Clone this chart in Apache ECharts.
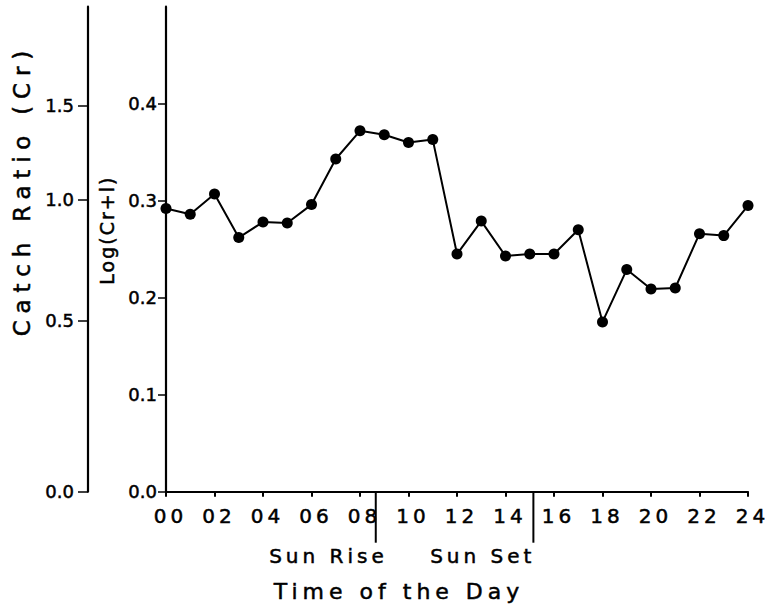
<!DOCTYPE html>
<html>
<head>
<meta charset="utf-8">
<script src="https://cdn.jsdelivr.net/npm/echarts@6/dist/echarts.min.js"></script>
<style>
  html, body { margin: 0; padding: 0; background: #fff; }
  #chart { width: 769px; height: 609px; }
  #chart text[style*="20px"] { letter-spacing: 4px; }
  #chart text[style*="19px"] { letter-spacing: 2px; }
  #chart text[style*="23px"] { letter-spacing: 6.8px; }
  #chart text[style*="22px"] { letter-spacing: 5px; }
</style>
</head>
<body>
<div id="chart"></div>
<script>
// ---- data ----
const hours = [0,1,2,3,4,5,6,7,8,9,10,11,12,13,14,15,16,17,18,19,20,21,22,23,24];
const logCatch = [0.292,0.286,0.307,0.262,0.278,0.277,0.296,0.343,0.372,0.368,0.360,0.363,
                  0.245,0.279,0.243,0.245,0.245,0.270,0.175,0.229,0.209,0.210,0.266,0.264,0.295];
const logTicks = [0.0, 0.1, 0.2, 0.3, 0.4];
const catchRatioTicks = [0.0, 0.5, 1.0, 1.5];
const sunEventHours = [8.65, 15.15];
const sunEventNames = ['Sun Rise', 'Sun Set'];

const FONT = 'DejaVu Sans';
const BOLDEN = { textBorderColor: '#000', textBorderWidth: 0.5 };
const chart = echarts.init(document.getElementById('chart'), null, { renderer: 'svg' });

const catchRatioPos = catchRatioTicks.map(c => Math.log10(1 + c));

chart.setOption({
  animation: false,
  backgroundColor: '#fff',
  grid: { left: 166, right: 21, top: 6.7, bottom: 117.3, containLabel: false },
  xAxis: {
    type: 'value', min: 0, max: 24, interval: 2,
    name: 'Time of the Day', nameLocation: 'middle', nameGap: 89,
    nameTextStyle: Object.assign({ fontFamily: FONT, fontSize: 22, color: '#000', padding: [0, 116, 0, 0] }, BOLDEN),
    axisLine: { show: true, lineStyle: { color: '#000', width: 2.2 } },
    axisTick: { show: true, length: 5, lineStyle: { color: '#000', width: 2 } },
    axisLabel: Object.assign({ fontFamily: FONT, fontSize: 20, color: '#000', margin: 14, padding: [0, 0, 0, 9],
      formatter: v => (v < 10 ? '0' : '') + v }, BOLDEN),
    splitLine: { show: false }
  },
  yAxis: [
    {
      type: 'value', min: 0, max: 0.5, position: 'left',
      name: 'Log(Cr+l)', nameLocation: 'middle', nameGap: 44,
      nameTextStyle: Object.assign({ fontFamily: FONT, fontSize: 19, color: '#000', padding: [0, 0, 0, 38] }, BOLDEN),
      axisLine: { show: true, lineStyle: { color: '#000', width: 2.2 } },
      axisTick: { show: true, length: 8, customValues: logTicks, lineStyle: { color: '#000', width: 1.5 } },
      axisLabel: Object.assign({ fontFamily: FONT, fontSize: 18, color: '#000', margin: 9, customValues: logTicks,
        formatter: v => v.toFixed(1) }, BOLDEN),
      splitLine: { show: false }
    },
    {
      type: 'value', min: 0, max: 0.5, position: 'left', offset: 78,
      name: 'Catch Ratio (Cr)', nameLocation: 'middle', nameGap: 53,
      nameTextStyle: Object.assign({ fontFamily: FONT, fontSize: 23, color: '#000', padding: [0, 0, 0, 118] }, BOLDEN),
      axisLine: { show: true, lineStyle: { color: '#000', width: 2.2 } },
      axisTick: { show: true, length: 10, customValues: catchRatioPos, lineStyle: { color: '#000', width: 1.5 } },
      axisLabel: Object.assign({ fontFamily: FONT, fontSize: 18, color: '#000', margin: 14, customValues: catchRatioPos,
        formatter: v => (Math.pow(10, v) - 1).toFixed(1) }, BOLDEN),
      splitLine: { show: false }
    }
  ],
  series: [
    {
      type: 'line',
      data: hours.map((h, i) => [h, logCatch[i]]),
      symbol: 'circle', symbolSize: 11,
      itemStyle: { color: '#000' },
      lineStyle: { color: '#000', width: 2 }
    },
    {
      type: 'custom',
      clip: false,
      data: sunEventHours.map((h, i) => [h, 0, i]),
      encode: { x: 0, y: 1 },
      renderItem: function (params, api) {
        const p = api.coord([api.value(0), 0]);
        const idx = api.value(2);
        const dx = idx === 0 ? 12 : 2;
        return {
          type: 'group',
          children: [
            { type: 'line', shape: { x1: p[0], y1: p[1], x2: p[0], y2: p[1] + 51 },
              style: { stroke: '#000', lineWidth: 2 } },
            { type: 'text', style: { text: sunEventNames[idx], x: p[0] + dx, y: p[1] + 64,
              align: 'right', verticalAlign: 'middle', fontFamily: FONT, fontSize: 20, fill: '#000',
              stroke: '#000', lineWidth: 0.5 } }
          ]
        };
      }
    }
  ]
});
</script>
</body>
</html>
